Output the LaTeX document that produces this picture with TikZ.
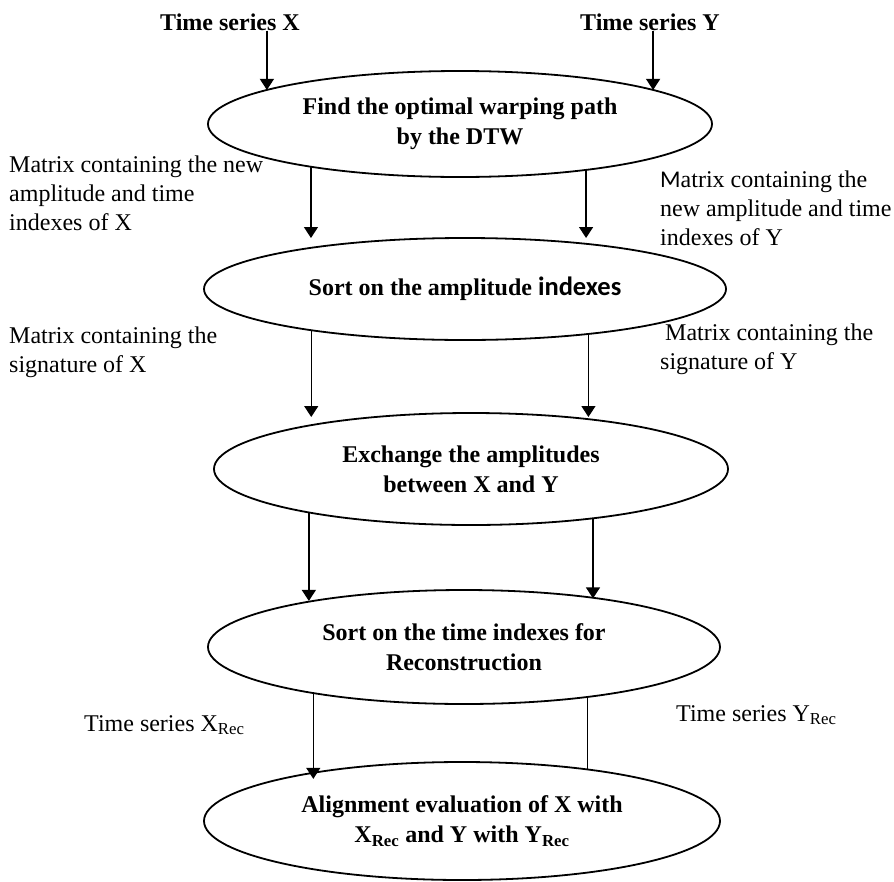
\documentclass[tikz,border=0pt]{standalone}
\usepackage{fontspec}
\setmainfont{Liberation Serif}
\newfontfamily\calfont{Carlito}
\usetikzlibrary{arrows.meta, shapes.geometric}

\begin{document}
\begin{tikzpicture}[x=1pt, y=-1pt,
    stage/.style={draw, ellipse, line width=1.8pt, inner sep=0pt, outer sep=0pt,
      align=center, font=\bfseries\fontsize{24}{30}\selectfont},
    lbl/.style={inner sep=0pt, anchor=west, align=left,
      font=\fontsize{24}{29}\selectfont},
    arr/.style={-{Triangle[length=11pt, width=14pt]}, line width=1.3pt}]
  \useasboundingbox (0,0) rectangle (894,881);

  % inputs
  \node[inner sep=0pt, font=\bfseries\fontsize{24}{29}\selectfont] (tsx) at (230,22) {Time series X};
  \node[inner sep=0pt, font=\bfseries\fontsize{24}{29}\selectfont] (tsy) at (650,22) {Time series Y};

  % stages
  \node[stage, minimum width=504pt, minimum height=106pt] (dtw) at (460,124)
    {Find the optimal warping path\\by the DTW};
  \node[stage, minimum width=522pt, minimum height=102pt] (sortamp) at (465,289)
    {Sort on the amplitude {\calfont\fontsize{26.5}{30}\selectfont indexes}};
  \node[stage, minimum width=514pt, minimum height=112pt] (exch) at (471,469)
    {Exchange the amplitudes\\between X and Y};
  \node[stage, minimum width=512pt, minimum height=114pt] (sorttime) at (464,647)
    {Sort on the time indexes for\\Reconstruction};
  \node[stage, minimum width=516pt, minimum height=118pt] (align) at (462,821)
    {Alignment evaluation of X with\\X\textsubscript{Rec} and Y with Y\textsubscript{Rec}};

  % side labels
  \node[lbl] (matx) at (9,193) {Matrix containing the new\\amplitude and time\\indexes of X};
  \node[lbl] (maty) at (660,208) {{\calfont M}atrix containing the\\new amplitude and time\\indexes of Y};
  \node[lbl] (sigx) at (9,352) {Matrix containing the\\signature of X};
  \node[lbl] (sigy) at (660,349) {\hspace*{5pt}Matrix containing the\\signature of Y};
  \node[lbl] (recx) at (84,725) {Time series X\textsubscript{Rec}};
  \node[lbl] (recy) at (676,715) {Time series Y\textsubscript{Rec}};

  % arrows
  \draw[arr] (tsx.south -| dtw.170.5) -- (dtw.170.5);
  \draw[arr] (tsy.south -| dtw.10.9) -- (dtw.10.9);
  \draw[arr] (dtw.196.5) -- (dtw.196.5 |- sortamp.north);
  \draw[arr] (dtw.340.6) -- (dtw.340.6 |- sortamp.north);
  \draw[arr, shorten >=-4pt] (sortamp.195.4) -- (sortamp.195.4 |- exch.north);
  \draw[arr, shorten >=-4pt] (sortamp.340.9) -- (sortamp.340.9 |- exch.north);
  \draw[arr] (exch.195.3) -- (exch.195.3 |- sorttime.163.4);
  \draw[arr] (exch.338) -- (exch.338 |- sorttime.20.9);
  \draw[arr, shorten >=-7pt] (sorttime.197.1) -- (sorttime.197.1 |- align.161.9);
  \draw[line width=1.3pt] (sorttime.338.3) -- (sorttime.338.3 |- align.22);
\end{tikzpicture}
\end{document}
